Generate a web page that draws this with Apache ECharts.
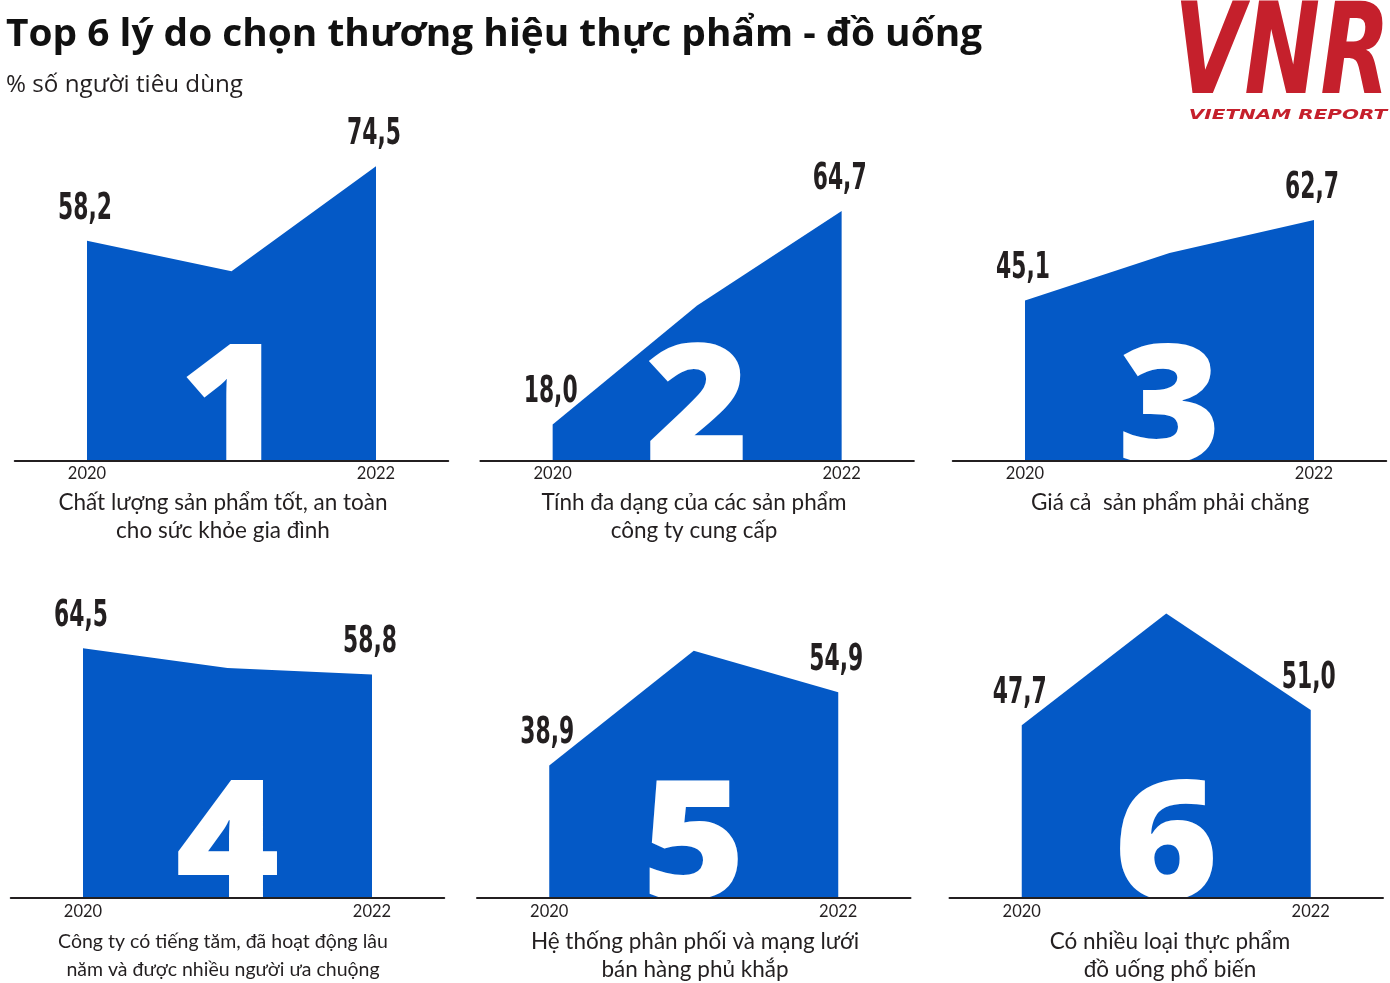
<!DOCTYPE html>
<html><head><meta charset="utf-8">
<script src="https://cdn.jsdelivr.net/npm/echarts@6/dist/echarts.min.js"></script>
<style>html,body{margin:0;padding:0;background:#fff}#c{width:1390px;height:983px}</style>
</head><body><div id="c"></div>
<script>
const years = ['2020', '2021', '2022'];
const reasons = [
  'Chất lượng sản phẩm tốt, an toàn\ncho sức khỏe gia đình',
  'Tính đa dạng của các sản phẩm\ncông ty cung cấp',
  'Giá cả  sản phẩm phải chăng',
  'Công ty có tiếng tăm, đã hoạt động lâu\nnăm và được nhiều người ưa chuộng',
  'Hệ thống phân phối và mạng lưới\nbán hàng phủ khắp',
  'Có nhiều loại thực phẩm\nđồ uống phổ biến'
];
const ranks = ['1', '2', '3', '4', '5', '6'];
const values2020 = [58.2, 18.0, 45.1, 64.5, 38.9, 47.7];
const values2021 = [51.5, 44.0, 55.5, 60.2, 64.0, 72.1];
const values2022 = [74.5, 64.7, 62.7, 58.8, 54.9, 51.0];
const titleText = 'Top 6 lý do chọn thương hiệu thực phẩm - đồ uống';
const subtitleText = '% số người tiêu dùng';
const logoText = 'VNR';
const logoSubText = 'VIETNAM REPORT';

const BLUE = '#0459C6';
const INK = '#231F20';
const RED = '#C5202C';
const gridLefts = [14.75, 480.4, 952.75, 10.75, 477, 949.5];
const gridTops = [141, 141, 141, 577.5, 577.5, 577.5];
const descX = [223, 694, 1170, 223, 695, 1170];
const descY = [503, 503, 503, 942, 942, 942];
const descSize = [22.5, 22.5, 22.5, 19.5, 22.5, 22.5];
const labelMargins = [4, 4, 4, 6, 6, 6];
const condensed = "'DejaVu Sans Condensed', 'DejaVu Sans', sans-serif";
const DIGIT_FS = 165;

const fmt = v => v.toFixed(1).replace('.', ',');
const grids = [], xAxes = [], yAxes = [], series = [], graphics = [];

reasons.forEach((r, i) => {
  grids.push({ left: gridLefts[i], top: gridTops[i], width: 433.5, height: 320 });
  xAxes.push({
    type: 'category', gridIndex: i, data: years, boundaryGap: true, z: 10,
    axisLine: { lineStyle: { color: INK, width: 2 } },
    axisTick: { show: false },
    axisLabel: { interval: 0, formatter: v => (v === '2021' ? '' : v), color: INK, fontSize: 16.5, fontFamily: 'Lato', margin: labelMargins[i] }
  });
  yAxes.push({ type: 'value', gridIndex: i, min: 10, max: 80, show: false });
  const vals = [values2020[i], values2021[i], values2022[i]];
  // blue area
  series.push({
    type: 'line', xAxisIndex: i, yAxisIndex: i, silent: true, z: 2,
    data: vals, showSymbol: false, symbol: 'none',
    lineStyle: { width: 0 },
    areaStyle: { color: BLUE, opacity: 1 }
  });
  // big white rank number, sitting on the baseline of the middle year (clipped by the plot)
  series.push({
    type: 'custom', xAxisIndex: i, yAxisIndex: i, silent: true, z: 5, clip: true,
    data: [[1, 10]],
    renderItem: (params, api) => {
      const pt = api.coord([api.value(0), api.value(1)]);
      return {
        type: 'text', x: pt[0], y: pt[1] - 0.388 * DIGIT_FS + 18, scaleX: 1.08,
        style: {
          text: ranks[i], align: 'center', verticalAlign: 'middle',
          fontFamily: "'Open Sans', sans-serif", fontWeight: 800, fontSize: DIGIT_FS,
          lineHeight: DIGIT_FS, fill: '#fff'
        }
      };
    }
  });
  // value labels for 2020 and 2022
  series.push({
    type: 'custom', xAxisIndex: i, yAxisIndex: i, silent: true, z: 6, clip: false,
    data: [[0, values2020[i]], [2, values2022[i]]],
    renderItem: (params, api) => {
      const v = api.value(1);
      const pt = api.coord([api.value(0), v]);
      return {
        type: 'text', x: pt[0] - 2, y: pt[1] - 13, scaleX: 0.64,
        style: {
          text: fmt(v), align: 'center', verticalAlign: 'bottom',
          fontFamily: condensed, fontWeight: 'bold', fontSize: 38, fill: INK
        }
      };
    }
  });
  graphics.push({
    type: 'text', x: descX[i], y: descY[i] - 14,
    style: {
      text: r, textAlign: 'center', align: 'center', textVerticalAlign: 'top', verticalAlign: 'top',
      fontFamily: 'Lato', fontSize: descSize[i], lineHeight: 28, fill: INK
    }
  });
});

graphics.push({
  type: 'text', x: 6, y: 35.5, scaleX: 1.05,
  style: { text: titleText, textVerticalAlign: 'middle', verticalAlign: 'middle', fontFamily: "'Open Sans', sans-serif", fontWeight: 'bold', fontSize: 37, fill: '#111' }
});
graphics.push({
  type: 'text', x: 6, y: 85.5, scaleX: 1.03,
  style: { text: subtitleText, textVerticalAlign: 'middle', verticalAlign: 'middle', fontFamily: "'Open Sans', sans-serif", fontSize: 23.5, fill: INK }
});
graphics.push({
  type: 'text', x: 1390, y: 60, scaleX: 0.8,
  style: { text: logoText, textAlign: 'right', align: 'right', textVerticalAlign: 'middle', verticalAlign: 'middle', fontFamily: condensed, fontWeight: 'bold', fontStyle: 'italic', fontSize: 126, fill: RED }
});
graphics.push({
  type: 'text', x: 1288, y: 115, scaleX: 1.38,
  style: { text: logoSubText, textAlign: 'center', align: 'center', textVerticalAlign: 'middle', verticalAlign: 'middle', fontFamily: 'DejaVu Sans', fontWeight: 'bold', fontStyle: 'italic', fontSize: 14.5, fill: RED }
});

const chart = echarts.init(document.getElementById('c'));
chart.setOption({
  animation: false,
  backgroundColor: '#fff',
  grid: grids, xAxis: xAxes, yAxis: yAxes, series: series,
  graphic: graphics
});
</script></body></html>
